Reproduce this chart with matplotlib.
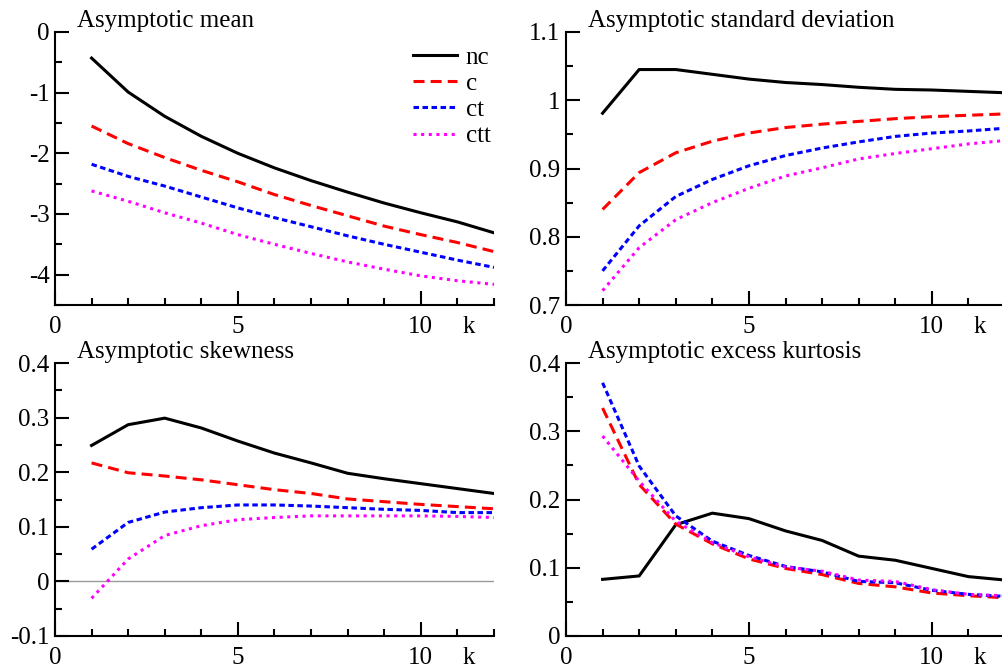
import matplotlib
matplotlib.use('Agg')
import matplotlib.pyplot as plt
from matplotlib.ticker import MultipleLocator

plt.rcParams['font.family'] = ['Liberation Serif', 'DejaVu Serif']
plt.rcParams['axes.unicode_minus'] = False

k = [1, 2, 3, 4, 5, 6, 7, 8, 9, 10, 11, 12]
labels = ['nc', 'c', 'ct', 'ctt']

mean_nc = [-0.43, -0.99, -1.39, -1.72, -2.00, -2.24, -2.45, -2.64, -2.82, -2.98, -3.13, -3.31]
mean_c = [-1.55, -1.84, -2.07, -2.28, -2.47, -2.68, -2.86, -3.03, -3.20, -3.34, -3.47, -3.62]
mean_ct = [-2.18, -2.38, -2.54, -2.72, -2.90, -3.06, -3.21, -3.36, -3.50, -3.63, -3.76, -3.88]
mean_ctt = [-2.62, -2.79, -2.98, -3.15, -3.34, -3.50, -3.65, -3.79, -3.91, -4.02, -4.10, -4.16]

sd_nc = [0.981, 1.045, 1.045, 1.038, 1.031, 1.026, 1.023, 1.019, 1.016, 1.015, 1.013, 1.011]
sd_c = [0.840, 0.894, 0.923, 0.940, 0.952, 0.960, 0.965, 0.969, 0.973, 0.976, 0.978, 0.980]
sd_ct = [0.750, 0.816, 0.859, 0.884, 0.904, 0.919, 0.930, 0.939, 0.947, 0.952, 0.955, 0.959]
sd_ctt = [0.721, 0.784, 0.825, 0.850, 0.871, 0.889, 0.901, 0.914, 0.922, 0.929, 0.936, 0.941]

skew_nc = [0.249, 0.287, 0.299, 0.281, 0.257, 0.235, 0.217, 0.198, 0.188, 0.179, 0.170, 0.161]
skew_c = [0.217, 0.199, 0.193, 0.186, 0.177, 0.168, 0.161, 0.151, 0.146, 0.141, 0.137, 0.133]
skew_ct = [0.059, 0.108, 0.127, 0.135, 0.140, 0.140, 0.138, 0.135, 0.132, 0.130, 0.126, 0.126]
skew_ctt = [-0.031, 0.041, 0.084, 0.102, 0.113, 0.117, 0.120, 0.120, 0.120, 0.120, 0.119, 0.117]

kurt_nc = [0.083, 0.088, 0.163, 0.180, 0.172, 0.154, 0.140, 0.117, 0.111, 0.099, 0.087, 0.082]
kurt_c = [0.334, 0.222, 0.164, 0.135, 0.113, 0.099, 0.090, 0.077, 0.072, 0.063, 0.059, 0.056]
kurt_ct = [0.371, 0.249, 0.176, 0.139, 0.118, 0.102, 0.094, 0.080, 0.078, 0.067, 0.061, 0.058]
kurt_ctt = [0.293, 0.227, 0.168, 0.137, 0.116, 0.101, 0.095, 0.082, 0.080, 0.068, 0.061, 0.059]

titles = ['Asymptotic mean', 'Asymptotic standard deviation',
          'Asymptotic skewness', 'Asymptotic excess kurtosis']
ylims = [(-4.5, 0), (0.7, 1.1), (-0.1, 0.4), (0, 0.4)]
yticks = [[0, -1, -2, -3, -4], [0.7, 0.8, 0.9, 1.0, 1.1],
          [-0.1, 0, 0.1, 0.2, 0.3, 0.4], [0, 0.1, 0.2, 0.3, 0.4]]
yticklabels = [['0', '-1', '-2', '-3', '-4'], ['0.7', '0.8', '0.9', '1', '1.1'],
               ['-0.1', '0', '0.1', '0.2', '0.3', '0.4'], ['0', '0.1', '0.2', '0.3', '0.4']]
yminor = [0.5, 0.05, 0.05, 0.05]
series = [[mean_nc, mean_c, mean_ct, mean_ctt],
          [sd_nc, sd_c, sd_ct, sd_ctt],
          [skew_nc, skew_c, skew_ct, skew_ctt],
          [kurt_nc, kurt_c, kurt_ct, kurt_ctt]]

styles = [dict(color='black', linestyle='-'),
          dict(color='red', dashes=(3.6, 2.0)),
          dict(color='blue', dashes=(1.8, 1.15)),
          dict(color='magenta', dashes=(1.0, 1.5))]

fig = plt.figure(figsize=(10.03, 6.70), dpi=100)
W, H = 1003.0, 670.0
# axes boxes in pixels: left, top, right, bottom
boxes = [(55, 32, 494, 305), (566, 32, 1005, 305),
         (55, 363, 494, 636), (566, 363, 1005, 636)]

for i in range(4):
    l, t, r, b = boxes[i]
    ax = fig.add_axes([l / W, 1 - b / H, (r - l) / W, (b - t) / H])
    for j in range(4):
        ax.plot(k, series[i][j], linewidth=2.2, label=labels[j], **styles[j])
    if i == 2:
        ax.axhline(0, color='#999999', linewidth=1.0, zorder=0)
    ax.set_xlim(0, 12)
    ax.set_ylim(*ylims[i])
    ax.set_xticks([0, 5, 10])
    ax.set_xticklabels(['0', '5', '10'])
    ax.xaxis.set_minor_locator(MultipleLocator(1))
    ax.set_yticks(yticks[i])
    ax.set_yticklabels(yticklabels[i])
    ax.yaxis.set_minor_locator(MultipleLocator(yminor[i]))
    for s in ['top', 'right']:
        ax.spines[s].set_visible(False)
    for s in ['left', 'bottom']:
        ax.spines[s].set_linewidth(1.5)
    ax.tick_params(which='major', direction='in', length=10, width=1.5,
                   labelsize=18, pad=4)
    ax.tick_params(which='minor', direction='in', length=5, width=1.5)
    ax.tick_params(axis='x', which='major', pad=8)
    ax.annotate('k', xy=(11.3, 0), xycoords=('data', 'axes fraction'),
                xytext=(0, -8), textcoords='offset points',
                ha='center', va='top', fontsize=18, annotation_clip=False)
    ax.text(0.05, 1.02, titles[i], transform=ax.transAxes, fontsize=18,
            ha='left', va='baseline')
    if i == 0:
        ax.legend(loc='upper left', bbox_to_anchor=(0.815, 0.948), frameon=False,
                  fontsize=18, handlelength=1.76, handletextpad=0.35,
                  labelspacing=0.15, borderpad=0, borderaxespad=0)

fig.savefig('out.png', dpi=100)
